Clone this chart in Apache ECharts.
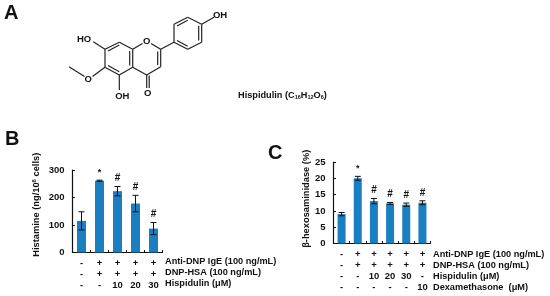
<!DOCTYPE html>
<html>
<head>
<meta charset="utf-8">
<style>html,body{margin:0;padding:0;background:#fff}#chart{width:550px;height:296px}</style>
<script src="https://cdn.jsdelivr.net/npm/echarts@6/dist/echarts.min.js"></script>
</head>
<body>
<div id="chart"></div>
<script>
/* panel B data */
var histRows = [
  ['-', '+', '+', '+', '+'],
  ['-', '+', '+', '+', '+'],
  ['-', '-', '10', '20', '30']
];
var histTitles = ['Anti-DNP IgE (100 ng/mL)', 'DNP-HSA (100 ng/mL)', 'Hispidulin (μM)'];
var histValues = [115, 261, 223, 178, 87];
var histErrors = [33, 2, 17, 30, 22];
var histMarks = ['', '*', '#', '#', '#'];
var histTicks = [0, 100, 200, 300];

/* panel C data */
var hexRows = [
  ['-', '+', '+', '+', '+', '+'],
  ['-', '+', '+', '+', '+', '+'],
  ['-', '-', '10', '20', '30', '-'],
  ['-', '-', '-', '-', '-', '10']
];
var hexTitles = ['Anti-DNP IgE (100 ng/mL)', 'DNP-HSA (100 ng/mL)', 'Hispidulin (μM)', 'Dexamethasone  (μM)'];
var hexValues = [9, 20, 13, 12.3, 11.9, 12.5];
var hexErrors = [0.5, 0.6, 0.8, 0.3, 0.5, 0.6];
var hexMarks = ['', '*', '#', '#', '#', '#'];
var hexTicks = [0, 5, 10, 15, 20, 25];

/* panel A structure, drawn as plain lines */
var bonds = [
  [69, 66.7, 84.5, 76.5], [92.5, 76.5, 105, 67.3], [105, 67.3, 119.3, 75], [119.3, 75, 132.7, 67.3], [132.7, 67.3, 132.7, 49.3],
  [132.7, 49.3, 119.3, 42.3], [119.3, 42.3, 105, 49.3], [105, 49.3, 93.3, 41.7], [105, 49.3, 105, 67.3], [119.3, 75, 119.3, 90],
  [132.7, 67.3, 146.7, 75], [146.7, 75, 146.7, 88], [146.7, 75, 160.7, 66.7], [160.7, 66.7, 160.7, 49.3], [160.7, 49.3, 151, 43.5],
  [142.5, 43.5, 132.7, 49.3], [160.7, 49.3, 174, 42.3], [174, 42.3, 174, 24.3], [174, 24.3, 187.7, 17.3], [187.7, 17.3, 201.7, 24.3],
  [201.7, 24.3, 201.7, 42.3], [201.7, 42.3, 187.7, 49.3], [187.7, 49.3, 174, 42.3], [201.7, 24.3, 214, 17.3],
  [108, 65.5, 119.3, 71.8], [108, 51, 119.3, 45], [129.7, 51, 129.7, 65.5], [157.7, 51.5, 157.7, 65],
  [149.2, 75.5, 149.2, 88], [177, 26, 187.7, 20.3], [198.7, 26, 198.7, 40.5], [177, 40.5, 187.7, 46.2]
];
var atoms = [
  ['HO', 84, 39], ['OH', 122.3, 96.7], ['O', 147.7, 93.5], ['O', 146.7, 41], ['O', 88.3, 79.3], ['OH', 220, 15]
];

var font = 'Liberation Sans';
var barColor = '#1a7fc0';
var ink = '#111';

function catLabels(rows) {
  return rows[0].map(function(_, i) {
    return rows.map(function(r) { return r[i]; }).join('\n');
  });
}

function errorItem(values, errors, marks) {
  return function(params, api) {
    var i = api.value(0);
    var top = api.coord([i, values[i] + errors[i]]);
    var bottom = api.coord([i, values[i] - errors[i]]);
    var style = { stroke: ink, lineWidth: 1 };
    var kids = [
      { type: 'line', shape: { x1: top[0], y1: top[1], x2: bottom[0], y2: bottom[1] }, style: style },
      { type: 'line', shape: { x1: top[0] - 3, y1: top[1], x2: top[0] + 3, y2: top[1] }, style: style },
      { type: 'line', shape: { x1: top[0] - 3, y1: bottom[1], x2: top[0] + 3, y2: bottom[1] }, style: style }
    ];
    if (marks[i]) {
      kids.push({
        type: 'text',
        style: {
          text: marks[i], x: top[0], y: top[1] - 3,
          align: 'center', verticalAlign: 'bottom',
          fill: ink, font: 'bold ' + (marks[i] === '#' ? 10 : 9) + 'px "' + font + '"'
        }
      });
    }
    return { type: 'group', children: kids };
  };
}

function panelAxes(rows, ticks, gridIndex) {
  var max = ticks[ticks.length - 1];
  return {
    x: {
      type: 'category', gridIndex: gridIndex, data: catLabels(rows),
      axisLine: { lineStyle: { color: ink, width: 1.2 } },
      axisTick: { show: true, length: 2.5, inside: true, lineStyle: { color: ink } },
      axisLabel: { interval: 0, color: ink, fontFamily: font, fontWeight: 'bold', fontSize: 9.5, lineHeight: 11, margin: 5, verticalAlign: 'top' }
    },
    y: {
      type: 'value', gridIndex: gridIndex, min: 0, max: max, interval: ticks[1] - ticks[0],
      axisLine: { show: true, lineStyle: { color: ink, width: 1.2 } },
      axisTick: { show: true, length: 2.5, inside: true, lineStyle: { color: ink } },
      splitLine: { show: false },
      axisLabel: { color: ink, fontFamily: font, fontWeight: 'bold', fontSize: 9.5, margin: 8 }
    }
  };
}

var axB = panelAxes(histRows, histTicks, 0);
var axC = panelAxes(hexRows, hexTicks, 1);
axB.y.name = '{t|Histamine (ng/10}{s|6}{t| cells)}';
axB.y.nameLocation = 'middle';
axB.y.nameGap = 31;
axB.y.nameTextStyle = { padding: [0, 0, 0, 13], rich: {
  t: { fontFamily: font, fontWeight: 'bold', fontSize: 9.3, color: ink },
  s: { fontFamily: font, fontWeight: 'bold', fontSize: 6, color: ink, verticalAlign: 'top', padding: [0, 0, 4, 0] }
} };
axC.y.name = 'β-hexosaminidase (%)';
axC.y.nameLocation = 'middle';
axC.y.nameGap = 23;
axC.y.nameTextStyle = { padding: [0, 0, 0, 8], fontFamily: font, fontWeight: 'bold', fontSize: 9.3, color: ink };

var graphics = [];
function addText(text, x, y, size) {
  graphics.push({
    type: 'text', left: x, top: y - size / 2,
    style: { text: text, fill: ink, font: 'bold ' + size + 'px "' + font + '"' }
  });
}
bonds.forEach(function(b) {
  graphics.push({
    type: 'line', shape: { x1: b[0], y1: b[1], x2: b[2], y2: b[3] },
    style: { stroke: '#222', lineWidth: 1.2 }
  });
});
atoms.forEach(function(a) {
  graphics.push({
    type: 'text', x: a[1], y: a[2],
    style: { text: a[0], fill: ink, align: 'center', verticalAlign: 'middle', font: 'bold 9.5px "' + font + '"' }
  });
});
addText('A', 4, 13, 20);
addText('B', 5, 139, 20);
addText('C', 268, 153, 20);
graphics.push({
  type: 'text', left: 238, top: 91,
  style: {
    text: '{t|Hispidulin (C}{b|16}{t|H}{b|12}{t|O}{b|6}{t|)}',
    rich: {
      t: { font: 'bold 9.2px "' + font + '"', fill: ink },
      b: { font: 'bold 5.5px "' + font + '"', fill: ink, padding: [4, 0, 0, 0] }
    }
  }
});
histTitles.forEach(function(t, i) { addText(t, 165, 262 + i * 11, 9.2); });
hexTitles.forEach(function(t, i) { addText(t, 433, 254.5 + i * 11, 9.2); });

var chart = echarts.init(document.getElementById('chart'), null, { renderer: 'canvas' });
chart.setOption({
  animation: false,
  backgroundColor: '#fff',
  grid: [
    { left: 72.5, top: 170, width: 90, height: 82.5, containLabel: false },
    { left: 333.5, top: 162, width: 97, height: 81.5, containLabel: false }
  ],
  xAxis: [axB.x, axC.x],
  yAxis: [axB.y, axC.y],
  graphic: graphics,
  series: [
    { type: 'bar', xAxisIndex: 0, yAxisIndex: 0, data: histValues, barWidth: 9, itemStyle: { color: barColor } },
    { type: 'custom', xAxisIndex: 0, yAxisIndex: 0, encode: { x: 0, y: 1 }, z: 5,
      data: histValues.map(function(v, i) { return [i, v]; }),
      renderItem: errorItem(histValues, histErrors, histMarks) },
    { type: 'bar', xAxisIndex: 1, yAxisIndex: 1, data: hexValues, barWidth: 8, itemStyle: { color: barColor } },
    { type: 'custom', xAxisIndex: 1, yAxisIndex: 1, encode: { x: 0, y: 1 }, z: 5,
      data: hexValues.map(function(v, i) { return [i, v]; }),
      renderItem: errorItem(hexValues, hexErrors, hexMarks) }
  ]
});
</script>
</body>
</html>
